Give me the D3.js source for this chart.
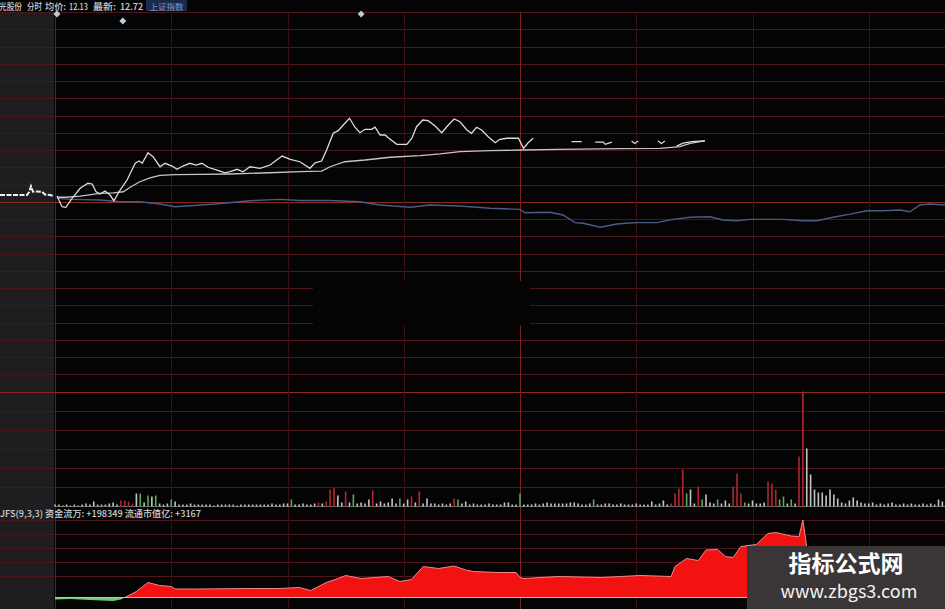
<!DOCTYPE html>
<html><head><meta charset="utf-8">
<script src="https://cdn.jsdelivr.net/npm/d3@7"></script>
<style>html,body{margin:0;padding:0;background:#000;overflow:hidden}</style>
</head><body><svg id="c" width="945" height="609"></svg>
<script>
// ---------------- DATA ----------------
// price line (percent change vs previous close), minute index 0..240; null = gap
const priceMin = [0.5,1.8,2.8,4.4,6.5,8.5,9.6,10.6,11.6,12.9,
  14.2,15.2,16.8,18.6,20.7,21.7,22.5,24.0,25.3,27.1,
  28.4,30.2,31.5,33.0,34.8,36.4,37.9,39.5,41.8,43.9,
  45.2,47.0,48.5,50.3,52.9,55.5,58.6,60.7,63.2,65.8,
  67.1,68.8,70.1,71.8,73.1,74.4,76.0,77.4,78.7,80.0,
  81.7,82.6,83.9,85.2,86.0,88.2,90.8,92.1,93.3,94.9,
  96.3,98.1,99.8,101.5,103.0,104.5,106.3,107.5,108.8,110.1,
  111.8,113.6,114.8,116.6,119.6,120.9,122.1,123.4,null,133.3,
  135.9,null,139.4,141.5,142.0,143.7,null,148.8,149.6,150.5,
  null,155.6,156.5,157.4,null,160.4,162.1,164.3,166.5,167.7];
const pricePct = [0.33,-0.29,-0.32,0.20,0.78,1.07,1.03,0.58,0.45,0.62,
  0.39,0.06,0.68,1.26,2.23,2.36,2.23,2.84,2.61,2.03,
  2.23,2.07,1.88,2.07,2.23,2.13,2.23,2.00,1.84,1.68,
  1.74,1.88,1.74,2.03,1.94,2.13,2.65,2.46,2.32,1.94,
  2.26,2.36,3.00,3.97,4.12,4.45,4.84,4.32,4.00,4.20,
  4.20,4.32,3.87,3.87,3.71,3.33,3.33,3.68,4.35,4.74,
  4.70,4.39,4.00,4.45,4.80,4.64,4.16,3.97,4.32,4.16,
  3.77,3.42,3.62,3.68,3.68,3.10,3.42,3.68,null,3.48,
  3.48,null,3.46,3.46,3.33,3.46,null,3.52,3.38,3.52,
  null,3.52,3.38,3.52,null,3.23,3.40,3.48,3.52,3.54];
// average price line
const avgMin = [0.5,3.1,6.5,11.6,15.0,17.6,19.4,21.9,24.5,27.1,
  31.0,37.4,45.2,55.5,63.2,68.8,71.0,74.8,80.0,86.5,
  94.2,99.4,104.5,112.3,120.0,130.3,145.8,156.1,161.3,163.9,166.5,167.7];
const avgPct = [0.26,0.26,0.33,0.49,0.52,0.58,0.84,1.16,1.39,1.53,
  1.57,1.59,1.61,1.68,1.75,1.78,2.03,2.32,2.42,2.58,
  2.67,2.77,2.90,2.96,3.00,3.04,3.08,3.10,3.19,3.39,3.48,3.51];
// overlaid index (上证指数) line
const idxMin = [0.5,3.9,11.6,16.8,21.9,27.1,31.0,34.8,41.3,50.3,
  58.1,63.2,71.0,78.7,83.9,91.6,96.8,104.5,112.3,120.0,
  121.3,127.7,131.1,134.2,136.3,140.7,145.0,147.5,150.1,155.3,
  159.5,163.9,169.0,172.4,175.9,179.4,187.9,193.0,196.6,200.8,
  205.2,209.5,213.7,218.1,220.6,223.2,225.8,229.7,232.0];
const idxPct = [0.20,0.14,0.10,0.0,0.0,-0.13,-0.29,-0.23,-0.13,0.06,
  0.14,0.07,0.07,0.0,-0.19,-0.32,-0.19,-0.25,-0.38,-0.44,
  -0.64,-0.61,-0.77,-1.21,-1.25,-1.48,-1.29,-1.25,-1.21,-1.21,
  -1.02,-0.90,-0.87,-1.06,-1.10,-1.02,-1.02,-1.10,-1.10,-0.90,
  -0.72,-0.52,-0.52,-0.48,-0.58,-0.19,-0.13,-0.19,-0.19];
// call-auction strip (left panel)
const auctionPos = [0,10,20,27,29,31,33,37,42,45,50,54];
const auctionPct = [0.39,0.39,0.39,0.39,0.55,0.9,0.58,0.6,0.58,0.42,0.39,0.33];
// volume per minute
const volume = [2,2,1,2,1,2,1,2,3,2, 5,2,2,2,3,4,2,6,6,5,
  3,13,13,4,11,10,11,3,2,3, 7,5,2,2,2,3,2,2,2,2,
  2,1,2,2,2,2,2,1,2,2, 2,2,2,2,2,2,3,2,2,3,
  3,7,2,2,3,2,2,3,4,3, 5,17,19,11,4,15,4,12,3,4,
  3,7,16,3,5,3,4,8,3,8, 3,7,10,4,15,3,8,3,3,2,
  3,2,3,8,7,3,5,2,3,2, 2,2,3,2,2,2,4,4,2,2,
  13,2,2,2,3,2,3,4,3,3, 3,3,3,4,4,3,2,2,3,7,
  2,2,3,3,2,2,3,2,2,2, 3,2,2,2,5,2,3,6,2,3,
  13,18,37,13,17,3,20,7,12,4, 3,7,3,6,3,20,33,13,4,3,
  6,3,3,4,25,23,17,7,10,3, 7,3,50,115,58,32,17,14,14,11,
  17,12,8,4,3,6,9,6,4,3, 3,4,2,3,2,3,4,2,2,3,
  2,3,2,2,3,2,3,2,7,5, 3];
const volumeColor = ("wwwwwwwwww"+"wwwwwwwrrr"+"rwgwgwgwww"+"gwwwwwwwww"+"wwwwwwwwww"+"wwwwwwwwww"+
  "wgwwwwwwrw"+"rrrwwrwgww"+"wwrwwwwwwg"+"wwrwrwwwww"+"wwwrgwwwww"+"wwwwwwwwww"+
  "gwwwwwwwww"+"wwwwwwwwwg"+"wwwwwwwwww"+"wwwwwwwwwr"+"rrrgwwrgww"+"wgwwwrrrgw"+
  "wwwwrrrggw"+"gwrrwwwwww"+"wwwwwwwwww"+"wwwwwwwwww"+"wwwwwwwwww"+"w").split("");
// JFS money-flow indicator
const jfsMin = [0,4,9,12,15,17,18,21,24,27, 30,31,37,50,58,63,66,70,72,75,
  79,86,89,92,95,99,103,106,108,114, 119,120,121,130,141,151,159,160,163,166,
  168,171,173,175,177,181,184,186,190,192, 193,194,195];
const jfsVal = [-2,-1.5,-2.5,-3,-3.5,-2,0,6,15,12, 11,8.5,8.5,9,9,10,7,15,17.5,22,
  19,21,16,18,31,29,31.5,27.5,26,25, 25,20,19,21,20,22,21,31,39,37,
  47.5,48,41,40,51,53,64,65,61.5,61, 77.5,50,45];
const timeTicks = [0,30,60,90,120,150,180,210,240];
const headerParts = ["光股份","分时","均价:","12.13","最新:","12.72"];
const indexLabel = "上证指数";
const jfsHeader = "JFS(9,3,3) 资金流万: +198349 流通市值亿: +3167";
const markerMin = [0.5,17.5,79.0];

// ---------------- DRAW ----------------
const W=945,H=609;
const svg=d3.select('#c');
const font='"Noto Sans CJK SC","Noto Sans",sans-serif';
svg.append('rect').attr('width',W).attr('height',H).attr('fill','#040404');
svg.append('rect').attr('x',0).attr('y',12).attr('width',54).attr('height',H-12).attr('fill','#1e1e20');

const x=d3.scaleLinear().domain([0,240]).range([55,985]);
const yP=d3.scaleLinear().domain([-11,11]).range([391.5,12]);
const yV=d3.scaleLinear().domain([0,115]).range([506.5,391.5]);
const yJ=d3.scaleLinear().domain([0,77.5]).range([597.5,520]);
const xA=d3.scaleLinear().domain([0,54]).range([0,54]);

const g=svg.append('g');
yP.ticks(22).forEach(v=>{
  const yy=Math.round(yP(v))+0.5;
  g.append('line').attr('x1',0).attr('x2',W).attr('y1',yy).attr('y2',yy)
   .attr('stroke', v===0||v===-11 ? '#8a2a22' : '#4e1518').attr('stroke-width',1);
});
d3.range(1,6).forEach(k=>{
  const yy=Math.round(yV(115*k/6))+0.5;
  g.append('line').attr('x1',0).attr('x2',W).attr('y1',yy).attr('y2',yy).attr('stroke','#4e1518');
});
[520,534,548,562,576].forEach(yy=>{
  g.append('line').attr('x1',0).attr('x2',W).attr('y1',yy+0.5).attr('y2',yy+0.5).attr('stroke','#4e1518');
});
timeTicks.forEach(t=>{
  const xx=Math.round(x(t))+0.5;
  g.append('line').attr('x1',xx).attr('x2',xx).attr('y1',12).attr('y2',H)
   .attr('stroke', t===0 ? '#6a1a1c' : (t===120 ? '#7a2020' : '#3a1012')).attr('stroke-width',1);
});
g.append('rect').attr('x',313).attr('y',281).attr('width',217).attr('height',44).attr('fill','#040404');

markerMin.forEach((m,i)=>{
  const cx=x(m), cy= i===1?21:14;
  svg.append('path').attr('d',`M${cx},${cy-3.5}L${cx+3.5},${cy}L${cx},${cy+3.5}L${cx-3.5},${cy}Z`).attr('fill','#b8cce0');
});

const idxData=idxMin.map((t,i)=>({t,v:idxPct[i]}));
svg.append('path').datum(idxData).attr('fill','none').attr('stroke','#4d5a88').attr('stroke-width',1.4)
  .attr('d',d3.line().x(d=>x(d.t)).y(d=>yP(d.v)));
const avgData=avgMin.map((t,i)=>({t,v:avgPct[i]}));
svg.append('path').datum(avgData).attr('fill','none').attr('stroke','#c4c4c4').attr('stroke-width',1.3)
  .attr('d',d3.line().x(d=>x(d.t)).y(d=>yP(d.v)));
const priceData=priceMin.map((t,i)=>({t,v:pricePct[i]}));
svg.append('path').datum(priceData).attr('fill','none').attr('stroke','#dcdcdc').attr('stroke-width',1.3)
  .attr('d',d3.line().defined(d=>d.v!==null).x(d=>x(d.t)).y(d=>yP(d.v)));
const aucData=auctionPos.map((p,i)=>({p,v:auctionPct[i]}));
svg.append('path').datum(aucData).attr('fill','none').attr('stroke','#f0f0f0').attr('stroke-width',2)
  .attr('stroke-dasharray','5,1.5').attr('d',d3.line().x(d=>xA(d.p)).y(d=>yP(d.v)));

const volColors={r:'#b0282e',g:'#5aa85a',w:'#c4c4c4'};
svg.append('line').attr('x1',55).attr('x2',W).attr('y1',506.5).attr('y2',506.5).attr('stroke','#6a6a6a');
svg.append('g').selectAll('rect').data(volume).join('rect')
  .attr('x',(d,i)=>x(i)-0.8).attr('width',1.6)
  .attr('y',d=>yV(d)).attr('height',d=>yV(0)-yV(d))
  .attr('fill',(d,i)=>volColors[volumeColor[i]||'w']);

const jfsData=jfsMin.map((t,i)=>({t,v:jfsVal[i]}));
svg.append('path').datum(jfsData).attr('fill','#f21212')
  .attr('d',d3.area().x(d=>x(d.t)).y0(yJ(0)).y1(d=>yJ(Math.max(0,d.v))));
svg.append('path').datum(jfsData).attr('fill','#74c874')
  .attr('d',d3.area().x(d=>x(d.t)).y0(yJ(0)).y1(d=>yJ(Math.min(0,d.v))));
svg.append('path').datum(jfsData.filter(d=>d.v>=0)).attr('fill','none').attr('stroke','#f08a8a').attr('stroke-width',1)
  .attr('d',d3.line().x(d=>x(d.t)).y(d=>yJ(d.v)));
svg.append('line').attr('x1',55).attr('x2',W).attr('y1',yJ(0)).attr('y2',yJ(0)).attr('stroke','#e6b4b4').attr('stroke-width',1.2);

// header
const hx=[-1,27,45,69,93,120], hw=[23,15,21,19,23,23];
headerParts.forEach((s,i)=>{
  svg.append('text').attr('x',hx[i]).attr('y',10).attr('font-family',font).attr('font-size',9)
    .attr('font-weight',500).attr('textLength',hw[i]).attr('lengthAdjust','spacingAndGlyphs')
    .attr('fill','#d2d2d2').text(s);
});
svg.append('rect').attr('x',146).attr('y',0).attr('width',41).attr('height',11).attr('fill','#1b2a4c');
svg.append('text').attr('x',166.5).attr('y',10).attr('text-anchor','middle').attr('font-family',font)
  .attr('font-size',8.5).attr('fill','#7d9ad6').text(indexLabel);
svg.append('text').attr('x',0).attr('y',517).attr('font-family',font).attr('font-size',9)
  .attr('font-weight',500).attr('textLength',201).attr('lengthAdjust','spacingAndGlyphs')
  .attr('fill','#d2d2d2').text(jfsHeader);

// watermark
svg.append('rect').attr('x',747).attr('y',546).attr('width',198).attr('height',63).attr('fill','#3a3536');
svg.append('text').attr('x',846).attr('y',572).attr('text-anchor','middle').attr('font-family',font)
  .attr('font-size',23).attr('font-weight','bold').attr('fill','#ffffff').text('指标公式网');
svg.append('text').attr('x',849).attr('y',598).attr('text-anchor','middle').attr('font-family',font)
  .attr('font-size',18).attr('fill','#f2f2f2').text('www.zbgs3.com');
</script></body></html>
